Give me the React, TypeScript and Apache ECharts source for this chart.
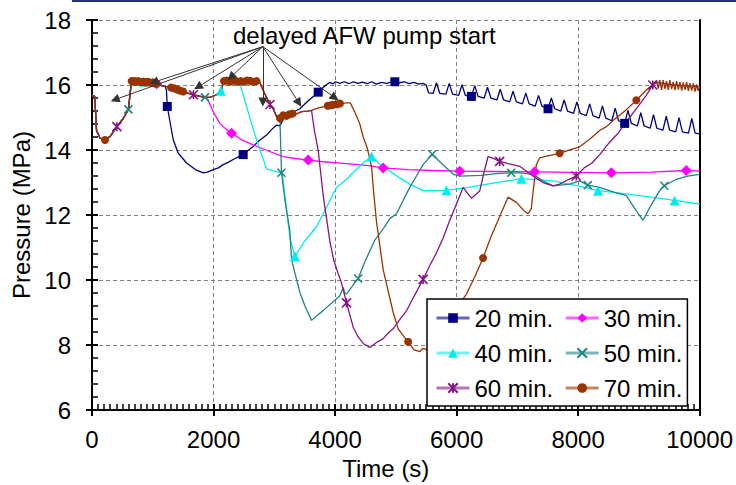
import React, { useEffect, useRef } from "react";
import * as echarts from "echarts";

const FONT = '"Liberation Sans", Arial, sans-serif';

// Axis ranges
const TIME_MIN = 0;
const TIME_MAX = 10000;
const TIME_STEP = 2000;
const P_MIN = 6;
const P_MAX = 18;
const P_STEP = 2;

const seriesNames = ["20 min.", "30 min.", "40 min.", "50 min.", "60 min.", "70 min."];

// Path shared by every case before its pump start (time s, pressure MPa)
const sharedStart: number[][] = [
  [0, 15.68], [45, 15.65], [75, 14.6], [130, 14.37], [214, 14.31], [300, 14.42], [409, 14.72],
  [515, 14.97], [599, 15.25], [625, 15.7], [652, 16.12], [680, 16.1], [700, 16.12], [730, 16.1],
  [760, 16.12], [800, 16.09], [845, 16.1], [880, 16.08], [920, 16.1], [960, 16.07], [1000, 16.08],
  [1030, 16.05], [1064, 16.04], [1150, 15.98], [1200, 15.96],
];
const sharedMid: number[][] = [
  [1250, 15.95], [1300, 15.92], [1350, 15.9], [1400, 15.86], [1447, 15.83], [1500, 15.8],
  [1669, 15.7], [1859, 15.62],
];
const sharedLate: number[][] = [
  [1941, 15.62], [2050, 15.7], [2122, 15.82], [2170, 16.12], [2220, 16.14], [2270, 16.1],
  [2320, 16.14], [2370, 16.12], [2400, 16.1],
];
const sharedLater: number[][] = [
  [2450, 16.12], [2500, 16.1], [2550, 16.14], [2600, 16.13], [2650, 16.1], [2708, 16.12],
  [2763, 16.08], [2818, 15.83], [2929, 15.4], [2982, 15.27], [3040, 15.02], [3065, 14.97], [3092, 14.98],
];
const sharedLast: number[][] = [
  [3147, 15.07], [3200, 15.05], [3250, 15.1], [3300, 15.12], [3350, 15.1], [3450, 15.18],
  [3550, 15.2], [3613, 15.22],
];

// 20 min. case
const branch20: number[][] = [
  [1225, 15.85], [1239, 15.34], [1283, 14.87], [1338, 14.31], [1420, 13.9], [1557, 13.6], [1700, 13.4],
  [1831, 13.3], [1900, 13.32], [1995, 13.4], [2080, 13.45], [2159, 13.55], [2240, 13.62], [2324, 13.71],
  [2400, 13.78], [2488, 13.86], [2560, 13.98], [2653, 14.11], [2760, 14.3], [2873, 14.46], [2950, 14.62],
  [3037, 14.77], [3092, 14.74], [3150, 14.95], [3202, 15.05], [3300, 15.15], [3421, 15.27], [3550, 15.5],
  [3723, 15.78], [3850, 16.0], [3914, 16.08], [3960, 16.03], [4010, 16.1], [4080, 16.05], [4150, 16.1],
  [4230, 16.04], [4300, 16.1], [4380, 16.05], [4450, 16.09], [4530, 16.04], [4600, 16.1], [4680, 16.03],
  [4760, 16.08], [4850, 16.05], [4920, 16.09], [4984, 16.1], [5060, 16.07], [5140, 16.1], [5220, 16.04],
  [5300, 16.08], [5380, 16.03], [5450, 16.05], [5500, 16.0], [5540, 15.76],
  [5614, 15.74], [5669, 16.07], [5724, 15.74],
  [5824, 15.72], [5879, 16.05], [5934, 15.72],
  [6034, 15.68], [6089, 16.01], [6144, 15.68],
  [6244, 15.65], [6299, 15.98], [6354, 15.65],
  [6454, 15.6], [6509, 15.93], [6564, 15.6],
  [6664, 15.54], [6719, 15.87], [6774, 15.54],
  [6874, 15.48], [6929, 15.81], [6984, 15.48],
  [7084, 15.42], [7139, 15.75], [7194, 15.42],
  [7294, 15.35], [7349, 15.68], [7404, 15.35],
  [7505, 15.27], [7560, 15.6], [7615, 15.27],
  [7715, 15.2], [7770, 15.54], [7825, 15.2],
  [7925, 15.13], [7980, 15.48], [8035, 15.13],
  [8135, 15.06], [8190, 15.42], [8245, 15.06],
  [8345, 14.98], [8400, 15.36], [8455, 14.98],
  [8555, 14.9], [8610, 15.29], [8665, 14.9],
  [8766, 14.82], [8821, 15.22], [8876, 14.82],
  [8976, 14.74], [9031, 15.15], [9086, 14.74],
  [9186, 14.67], [9241, 15.09], [9296, 14.67],
  [9396, 14.61], [9451, 15.04], [9506, 14.61],
  [9606, 14.56], [9661, 15.0], [9716, 14.56],
  [9816, 14.52], [9871, 14.97], [9926, 14.52],
  [10000, 14.5],
];

// 30 min. case
const branch30: number[][] = [
  [1908, 15.55], [1996, 15.17], [2105, 14.82], [2200, 14.65], [2297, 14.52], [2450, 14.33], [2653, 14.16],
  [2900, 13.97], [3147, 13.8], [3350, 13.74], [3558, 13.69], [3800, 13.64], [4100, 13.6], [4518, 13.53],
  [4792, 13.45], [5200, 13.4], [5600, 13.37], [6053, 13.35], [6600, 13.34], [7286, 13.33], [7900, 13.31],
  [8547, 13.3], [9200, 13.32], [9780, 13.37], [10000, 13.35],
];

// 40 min. case
const branch40: number[][] = [
  [2434, 16.05], [2500, 15.62], [2600, 14.98], [2700, 14.36], [2873, 13.42], [3000, 13.35], [3130, 13.3],
  [3200, 12.2], [3257, 11.3], [3339, 10.73], [3500, 11.2], [3695, 11.64], [3850, 12.2], [4024, 12.85],
  [4189, 13.1], [4350, 13.4], [4463, 13.6], [4600, 13.8], [4750, 13.55], [4901, 13.35], [5060, 13.15],
  [5230, 12.95], [5449, 12.75], [5833, 12.76], [6200, 12.85], [6600, 12.98], [7067, 13.12], [7582, 13.05],
  [8000, 12.9], [8328, 12.75], [8794, 12.65], [9200, 12.55], [9589, 12.45], [10000, 12.34],
];

// 50 min. case
const branch50: number[][] = [
  [3119, 13.3], [3180, 12.4], [3257, 11.5], [3284, 10.63], [3421, 9.62], [3503, 9.21], [3613, 8.76],
  [3700, 8.9], [3804, 9.06], [3950, 9.3], [4079, 9.52], [4134, 9.77], [4160, 9.6], [4189, 9.57],
  [4300, 9.85], [4380, 10.05], [4500, 10.6], [4655, 11.23], [4800, 11.6], [4901, 11.89], [5011, 12.04],
  [5120, 12.45], [5230, 12.85], [5340, 13.2], [5449, 13.55], [5600, 13.87], [5720, 13.65], [5833, 13.45],
  [5950, 13.25], [6053, 13.2], [6400, 13.22], [6700, 13.28], [6899, 13.3], [7039, 13.3], [7258, 13.25],
  [7420, 13.05], [7588, 12.9], [7862, 12.95], [8026, 13.05], [8159, 12.92], [8355, 12.85], [8600, 12.7],
  [8794, 12.6], [8950, 12.15], [9068, 11.84], [9200, 12.3], [9342, 12.75], [9419, 12.9], [9616, 13.1],
  [9800, 13.2], [10000, 13.25],
];

// 60 min. case
const branch60: number[][] = [
  [3660, 14.6], [3722, 14.0], [3805, 12.6], [3860, 11.9], [3914, 11.2], [3980, 10.6], [4050, 10.2],
  [4100, 9.95], [4189, 9.3], [4298, 8.55], [4380, 8.25], [4463, 8.05], [4572, 7.93], [4700, 8.1],
  [4792, 8.2], [4880, 8.38], [4956, 8.5], [5070, 8.8], [5175, 9.05], [5300, 9.5], [5449, 10.02],
  [5560, 10.45], [5668, 10.83], [5780, 11.3], [5888, 11.84], [6000, 12.35], [6107, 12.85], [6170, 12.7],
  [6244, 12.52], [6300, 12.6], [6382, 12.75], [6450, 13.3], [6518, 13.8], [6600, 13.75], [6709, 13.65],
  [6850, 13.58], [7039, 13.5], [7150, 13.35], [7258, 13.2], [7420, 13.0], [7588, 12.9], [7697, 12.95],
  [7850, 13.1], [7969, 13.2], [8100, 13.45], [8230, 13.6], [8355, 13.86], [8500, 14.2], [8650, 14.5],
  [8794, 14.87], [8950, 15.25], [9122, 15.68], [9229, 16.0], [9300, 16.08], [9500, 16.02], [9700, 15.98],
  [10000, 15.95],
];

// 70 min. case
const branch70: number[][] = [
  [3700, 15.28], [3800, 15.33], [3880, 15.36], [3930, 15.38], [3969, 15.39], [4030, 15.41], [4080, 15.43],
  [4189, 15.45], [4250, 15.45], [4330, 15.15], [4408, 14.8], [4463, 14.4], [4530, 14.06], [4600, 13.5],
  [4640, 12.6], [4682, 11.8], [4792, 10.32], [4956, 9.01], [5038, 8.5], [5120, 8.3], [5203, 8.1],
  [5300, 7.85], [5395, 7.8], [5449, 7.9], [5520, 7.85], [5700, 8.4], [5950, 9.0], [6162, 9.57],
  [6300, 10.1], [6436, 10.68], [6560, 11.3], [6683, 11.84], [6847, 12.55], [6985, 12.39], [7100, 12.15],
  [7176, 12.04], [7230, 12.2], [7270, 12.9], [7313, 13.55], [7368, 13.76], [7500, 13.82], [7697, 13.9],
  [7850, 14.0], [8026, 14.1], [8200, 14.35], [8355, 14.6], [8465, 14.72], [8600, 14.95], [8800, 15.25],
  [8958, 15.53], [9100, 15.8], [9287, 16.13], [9320, 15.9], [9345, 16.15], [9375, 15.85], [9400, 16.15],
  [9430, 15.88], [9455, 16.12], [9485, 15.85], [9510, 16.15], [9540, 15.87], [9565, 16.1], [9595, 15.84],
  [9620, 16.12], [9650, 15.86], [9675, 16.1], [9705, 15.83], [9730, 16.08], [9760, 15.85], [9785, 16.1],
  [9815, 15.82], [9840, 16.06], [9870, 15.83], [9895, 16.05], [9925, 15.8], [9950, 16.02], [9975, 15.82],
  [10000, 15.95],
];

// Times (s) at which each case shows its marker
const marks20 = [1239, 2488, 3723, 4984, 6244, 7505, 8766];
const marks30 = [1064, 2297, 3558, 4792, 6053, 7286, 8547, 9780];
const marks40 = [845, 2122, 3339, 4600, 5833, 7067, 8328, 9589];
const marks50 = [599, 1859, 3119, 4380, 5600, 6899, 8159, 9419];
const marks60 = [409, 1669, 2929, 4189, 5449, 6709, 7969, 9229];
const marks70 = [
  214, 652, 680, 700, 730, 760, 800, 845, 880, 920, 960, 1000, 1030, 1064, 1300, 1350, 1400, 1447, 1500,
  2170, 2220, 2270, 2320, 2370, 2400, 2450, 2500, 2550, 2600, 2650, 2708, 3092, 3147, 3200, 3250, 3300,
  3880, 3930, 3969, 4030, 4080, 5203, 6436, 7697, 8958,
];

// "delayed AFW pump start" callout: common origin and arrow tips (s, MPa)
const arrowOrigin = [2812, 17.18];
const arrowTips: number[][] = [
  [378, 15.55], [1020, 16.09], [1743, 15.94], [2286, 16.24], [2812, 15.48], [3405, 15.45], [3997, 15.61],
];

const X_MARK = "path://M0,0L10,10M10,0L0,10";
const STAR_MARK = "path://M0,0L10,10M10,0L0,10M5,0L5,10";

function withMarks(points: number[][], marks: number[], symbol: string) {
  const set = new Set(marks);
  return points.map(([t, p]) => ({ value: [t, p], symbol: set.has(t) ? symbol : "none" }));
}

function lineSeries(
  name: string,
  points: number[][],
  marks: number[],
  color: string,
  symbol: string,
  symbolSize: number,
  stroked: boolean,
  extra: any = {}
) {
  return {
    name,
    type: "line",
    data: withMarks(points, marks, symbol),
    symbol,
    symbolSize,
    showSymbol: true,
    lineStyle: { color, width: 1.3 },
    itemStyle: stroked
      ? { color, borderColor: color, borderWidth: 1.6 }
      : { color, borderWidth: 0 },
    emphasis: { disabled: true },
    silent: true,
    ...extra,
  };
}

function buildOption() {
  const s20 = [...sharedStart, ...branch20];
  const s30 = [...sharedStart, ...sharedMid, ...branch30];
  const s40 = [...sharedStart, ...sharedMid, ...sharedLate, ...branch40];
  const s50 = [...sharedStart, ...sharedMid, ...sharedLate, ...sharedLater, ...branch50];
  const s60 = [...sharedStart, ...sharedMid, ...sharedLate, ...sharedLater, ...sharedLast, ...branch60];
  const s70 = [...sharedStart, ...sharedMid, ...sharedLate, ...sharedLater, ...sharedLast, ...branch70];

  const tickBase = { color: "#000", width: 2 };
  const labelBase = { color: "#000", fontSize: 24, fontFamily: FONT };

  return {
    animation: false,
    backgroundColor: "#fff",
    textStyle: { fontFamily: FONT },
    grid: { left: 92, right: 36, top: 20, bottom: 69, containLabel: false },
    graphic: [
      { type: "rect", shape: { x: 72, y: 0, width: 664, height: 2 }, style: { fill: "#22307a" }, silent: true },
      {
        type: "text",
        left: 233,
        top: 23,
        style: { text: "delayed AFW pump start", fontSize: 24, fontFamily: FONT, fill: "#000" },
        silent: true,
        z: 10,
      },
    ],
    legend: {
      data: seriesNames,
      left: 427,
      top: 299,
      width: 320,
      orient: "horizontal",
      itemWidth: 33,
      itemHeight: 12,
      itemGap: 11,
      padding: [7, 5, 6, 8],
      backgroundColor: "#fff",
      borderColor: "#000",
      borderWidth: 1.5,
      borderRadius: 0,
      selectedMode: false,
      lineStyle: { width: 3, opacity: 0.6 },
      textStyle: { color: "#000", fontSize: 24, fontFamily: FONT, padding: [0, 5, 0, 0] },
      z: 20,
    },
    xAxis: [
      {
        type: "value",
        min: TIME_MIN,
        max: TIME_MAX,
        interval: TIME_STEP,
        position: "bottom",
        name: "Time (s)",
        nameLocation: "middle",
        nameGap: 35,
        nameTextStyle: { ...labelBase, padding: [0, 20, 0, 0] },
        axisLine: { show: true, onZero: false, lineStyle: tickBase },
        axisTick: { show: true, inside: true, length: 6, lineStyle: tickBase },
        minorTick: { show: true, splitNumber: 20, length: 6, lineStyle: { color: "#000", width: 1.5 } },
        axisLabel: { ...labelBase, margin: 17, formatter: (v: number) => String(v) },
        splitLine: { show: true, lineStyle: { color: "#808080", width: 1, type: [4, 3] } },
      },
      {
        type: "value",
        min: TIME_MIN,
        max: TIME_MAX,
        interval: TIME_STEP,
        position: "bottom",
        axisLine: { show: false },
        axisTick: { show: true, inside: false, length: 6, lineStyle: tickBase },
        axisLabel: { show: false },
        splitLine: { show: false },
      },
    ],
    yAxis: [
      {
        type: "value",
        min: P_MIN,
        max: P_MAX,
        interval: P_STEP,
        position: "left",
        name: "Pressure (MPa)",
        nameLocation: "middle",
        nameGap: 52,
        nameTextStyle: labelBase,
        axisLine: { show: true, onZero: false, lineStyle: tickBase },
        axisTick: { show: true, inside: true, length: 6, lineStyle: tickBase },
        minorTick: { show: true, splitNumber: 5, length: 6, lineStyle: { color: "#000", width: 1.5 } },
        axisLabel: { ...labelBase, margin: 21, formatter: (v: number) => String(v) },
        splitLine: { show: true, lineStyle: { color: "#808080", width: 1, type: [4, 3] } },
      },
      {
        type: "value",
        min: P_MIN,
        max: P_MAX,
        interval: P_STEP,
        position: "left",
        axisLine: { show: false },
        axisTick: { show: true, inside: false, length: 6, lineStyle: tickBase },
        axisLabel: { show: false },
        splitLine: { show: false },
      },
      {
        type: "value",
        min: P_MIN,
        max: P_MAX,
        interval: P_STEP,
        position: "right",
        axisLine: { show: true, onZero: false, lineStyle: tickBase },
        axisTick: { show: false },
        axisLabel: { show: false },
        splitLine: { show: false },
      },
    ],
    series: [
      lineSeries(seriesNames[0], s20, marks20, "#000080", "rect", 9, false),
      lineSeries(seriesNames[1], s30, marks30, "#ff00ff", "diamond", 11, false),
      lineSeries(seriesNames[2], s40, marks40, "#00eded", "triangle", 10, false),
      lineSeries(seriesNames[3], s50, marks50, "#1f8585", X_MARK, 8, true),
      lineSeries(seriesNames[4], s60, marks60, "#851585", STAR_MARK, 9, true),
      lineSeries(seriesNames[5], s70, marks70, "#993300", "circle", 8, false, {
        markLine: {
          silent: true,
          animation: false,
          symbol: ["none", "triangle"],
          symbolSize: 9,
          label: { show: false },
          lineStyle: { color: "#333", width: 1, type: "solid" },
          itemStyle: { color: "#000" },
          emphasis: { disabled: true },
          data: arrowTips.map((tip) => [
            { coord: arrowOrigin },
            { coord: tip, itemStyle: { color: "#000" } },
          ]),
        },
      }),
    ],
  };
}

export default function App() {
  const ref = useRef<HTMLDivElement>(null);
  useEffect(() => {
    if (!ref.current) return;
    const chart = echarts.init(ref.current, null, { renderer: "svg" });
    chart.setOption(buildOption() as any);
    return () => chart.dispose();
  }, []);
  return (
    <div
      ref={ref}
      style={{ position: "fixed", left: 0, top: 0, width: 736, height: 485, background: "#fff" }}
    />
  );
}
